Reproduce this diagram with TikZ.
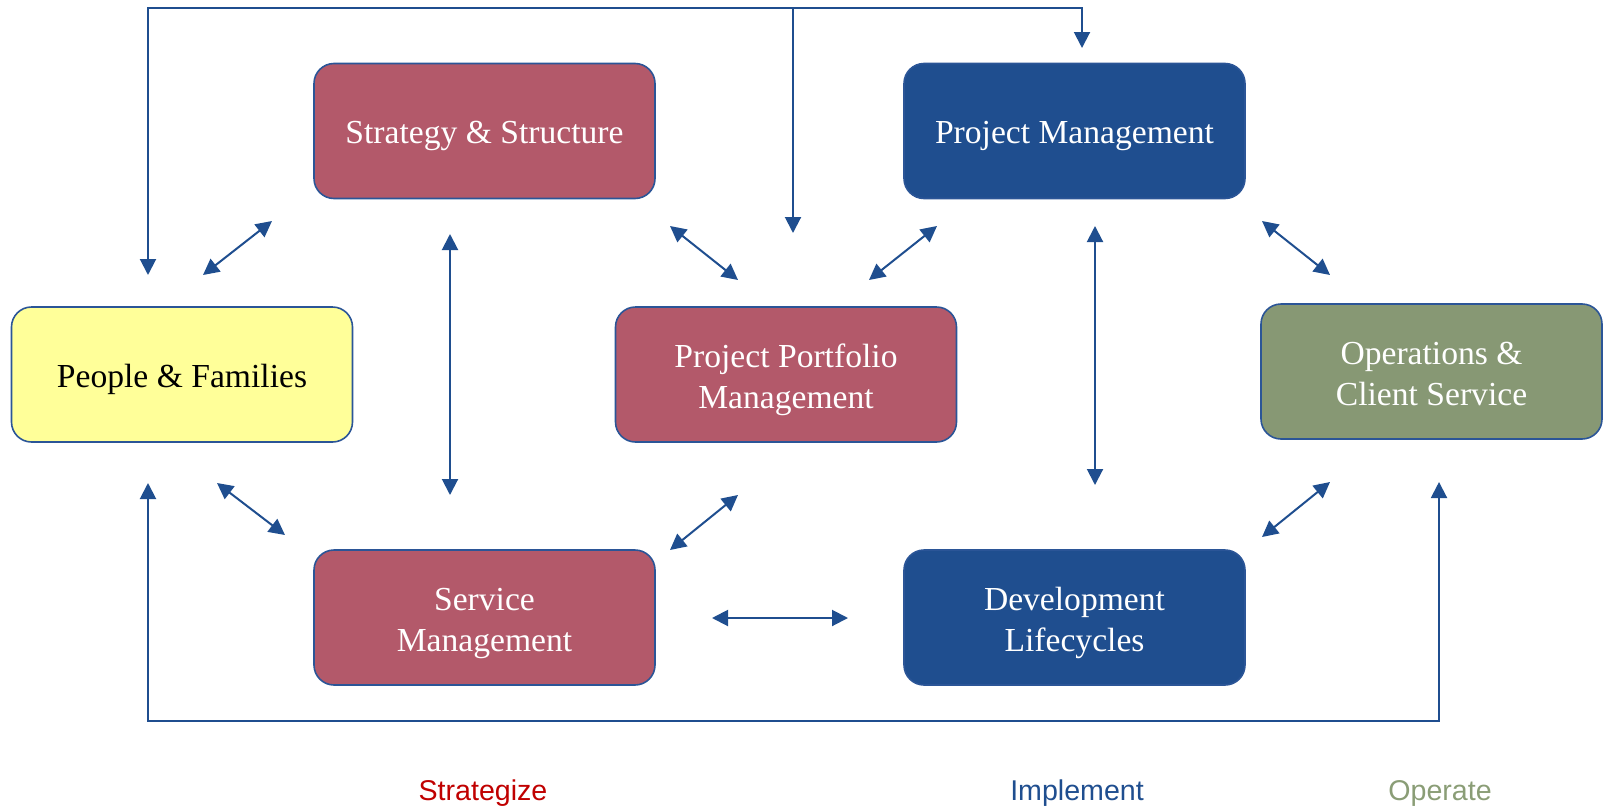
\documentclass[tikz,border=0pt]{standalone}
\usepackage{fontspec}
\setmainfont{Liberation Serif}
\newfontfamily\labelfont{Liberation Sans}
\usetikzlibrary{arrows.meta,positioning,calc}
\usepackage{xcolor}

\definecolor{stratRed}{RGB}{179,89,106}
\definecolor{implBlue}{RGB}{31,78,143}
\definecolor{opsGreen}{RGB}{135,152,116}
\definecolor{pplYellow}{RGB}{255,255,153}
\definecolor{edgeBlue}{RGB}{43,85,151}
\definecolor{lblRed}{RGB}{192,0,0}
\definecolor{lblGreen}{RGB}{138,157,118}

\tikzset{
  area/.style={draw=edgeBlue, line width=1.6pt, rounded corners=20pt,
    minimum width=341pt, minimum height=135pt, align=center,
    text height=33pt,
    font=\fontsize{33.6}{41}\selectfont, text=white},
  twoline/.style={text height=76pt},
  link/.style={draw=implBlue, line width=2pt},
  both/.style={link, {Triangle[length=16pt,width=16pt]}-{Triangle[length=16pt,width=16pt]}},
  one/.style={link, -{Triangle[length=16pt,width=16pt]}},
  phase/.style={font=\labelfont\fontsize{28.6}{30}\selectfont}
}

\begin{document}
\begin{tikzpicture}[x=1pt,y=-1pt]
    \useasboundingbox (0,0) rectangle (1603,806);
    % boxes
    \node[area, fill=stratRed] (strat) at (484.5,131) {Strategy \& Structure};
    \node[area, fill=implBlue] (pm) at (1074.5,131) {Project Management};
    \node[area, fill=pplYellow, text=black] (people) at (182,374.5) {People \& Families};
    \node[area, twoline, fill=stratRed] (ppm) at (786,374.5) {Project Portfolio\\Management};
    \node[area, twoline, text height=68pt, fill=opsGreen] (ops) at (1431.5,371.5) {Operations \&\\Client Service};
    \node[area, twoline, fill=stratRed] (serv) at (484.5,617.5) {Service\\Management};
    \node[area, twoline, fill=implBlue] (dev) at (1074.5,617.5) {Development\\Lifecycles};
    % phase labels
    \node[phase, text=lblRed] (strategize) at (483,793) {Strategize};
    \node[phase, text=implBlue] (implement) at (1077,793) {Implement};
    \node[phase, text=lblGreen] (operate) at (1440,793) {Operate};

    % loop over the top
    \coordinate (topL) at (148,7.5);
    \coordinate (topM) at (793,7.5);
    \coordinate (topR) at (1082,7.5);
    \coordinate (pplIn) at (148,275);
    \coordinate (pmIn) at (1082,48);
    \coordinate (ppmIn) at (793,233);
    \draw[both] (pplIn) -- (topL) -- (topR) -- (pmIn);
    \draw[one] (topM) -- (ppmIn);

    % loop along the bottom
    \coordinate (botL) at (148,721);
    \coordinate (botR) at (1439,721);
    \coordinate (pplOut) at (148,483);
    \coordinate (opsIn) at (1439,482);
    \draw[both] (pplOut) -- (botL) -- (botR) -- (opsIn);

    % short two-way links
    \coordinate (a1) at (203,275);  \coordinate (a2) at (272,221);
    \coordinate (b1) at (670,226);  \coordinate (b2) at (738,280);
    \coordinate (c1) at (869,280);  \coordinate (c2) at (937,226);
    \coordinate (d1) at (450,234);  \coordinate (d2) at (450,495);
    \coordinate (e1) at (1095,226); \coordinate (e2) at (1095,485);
    \coordinate (f1) at (1262,221); \coordinate (f2) at (1330,275);
    \coordinate (g1) at (1330,482); \coordinate (g2) at (1262,537);
    \coordinate (h1) at (217,483);  \coordinate (h2) at (285,535);
    \coordinate (i1) at (670,550);  \coordinate (i2) at (738,495);
    \coordinate (j1) at (712,618);  \coordinate (j2) at (848,618);
    \foreach \p in {a,b,c,d,e,f,g,h,i,j}
      \draw[both] (\p1) -- (\p2);
  \end{tikzpicture}
\end{document}
